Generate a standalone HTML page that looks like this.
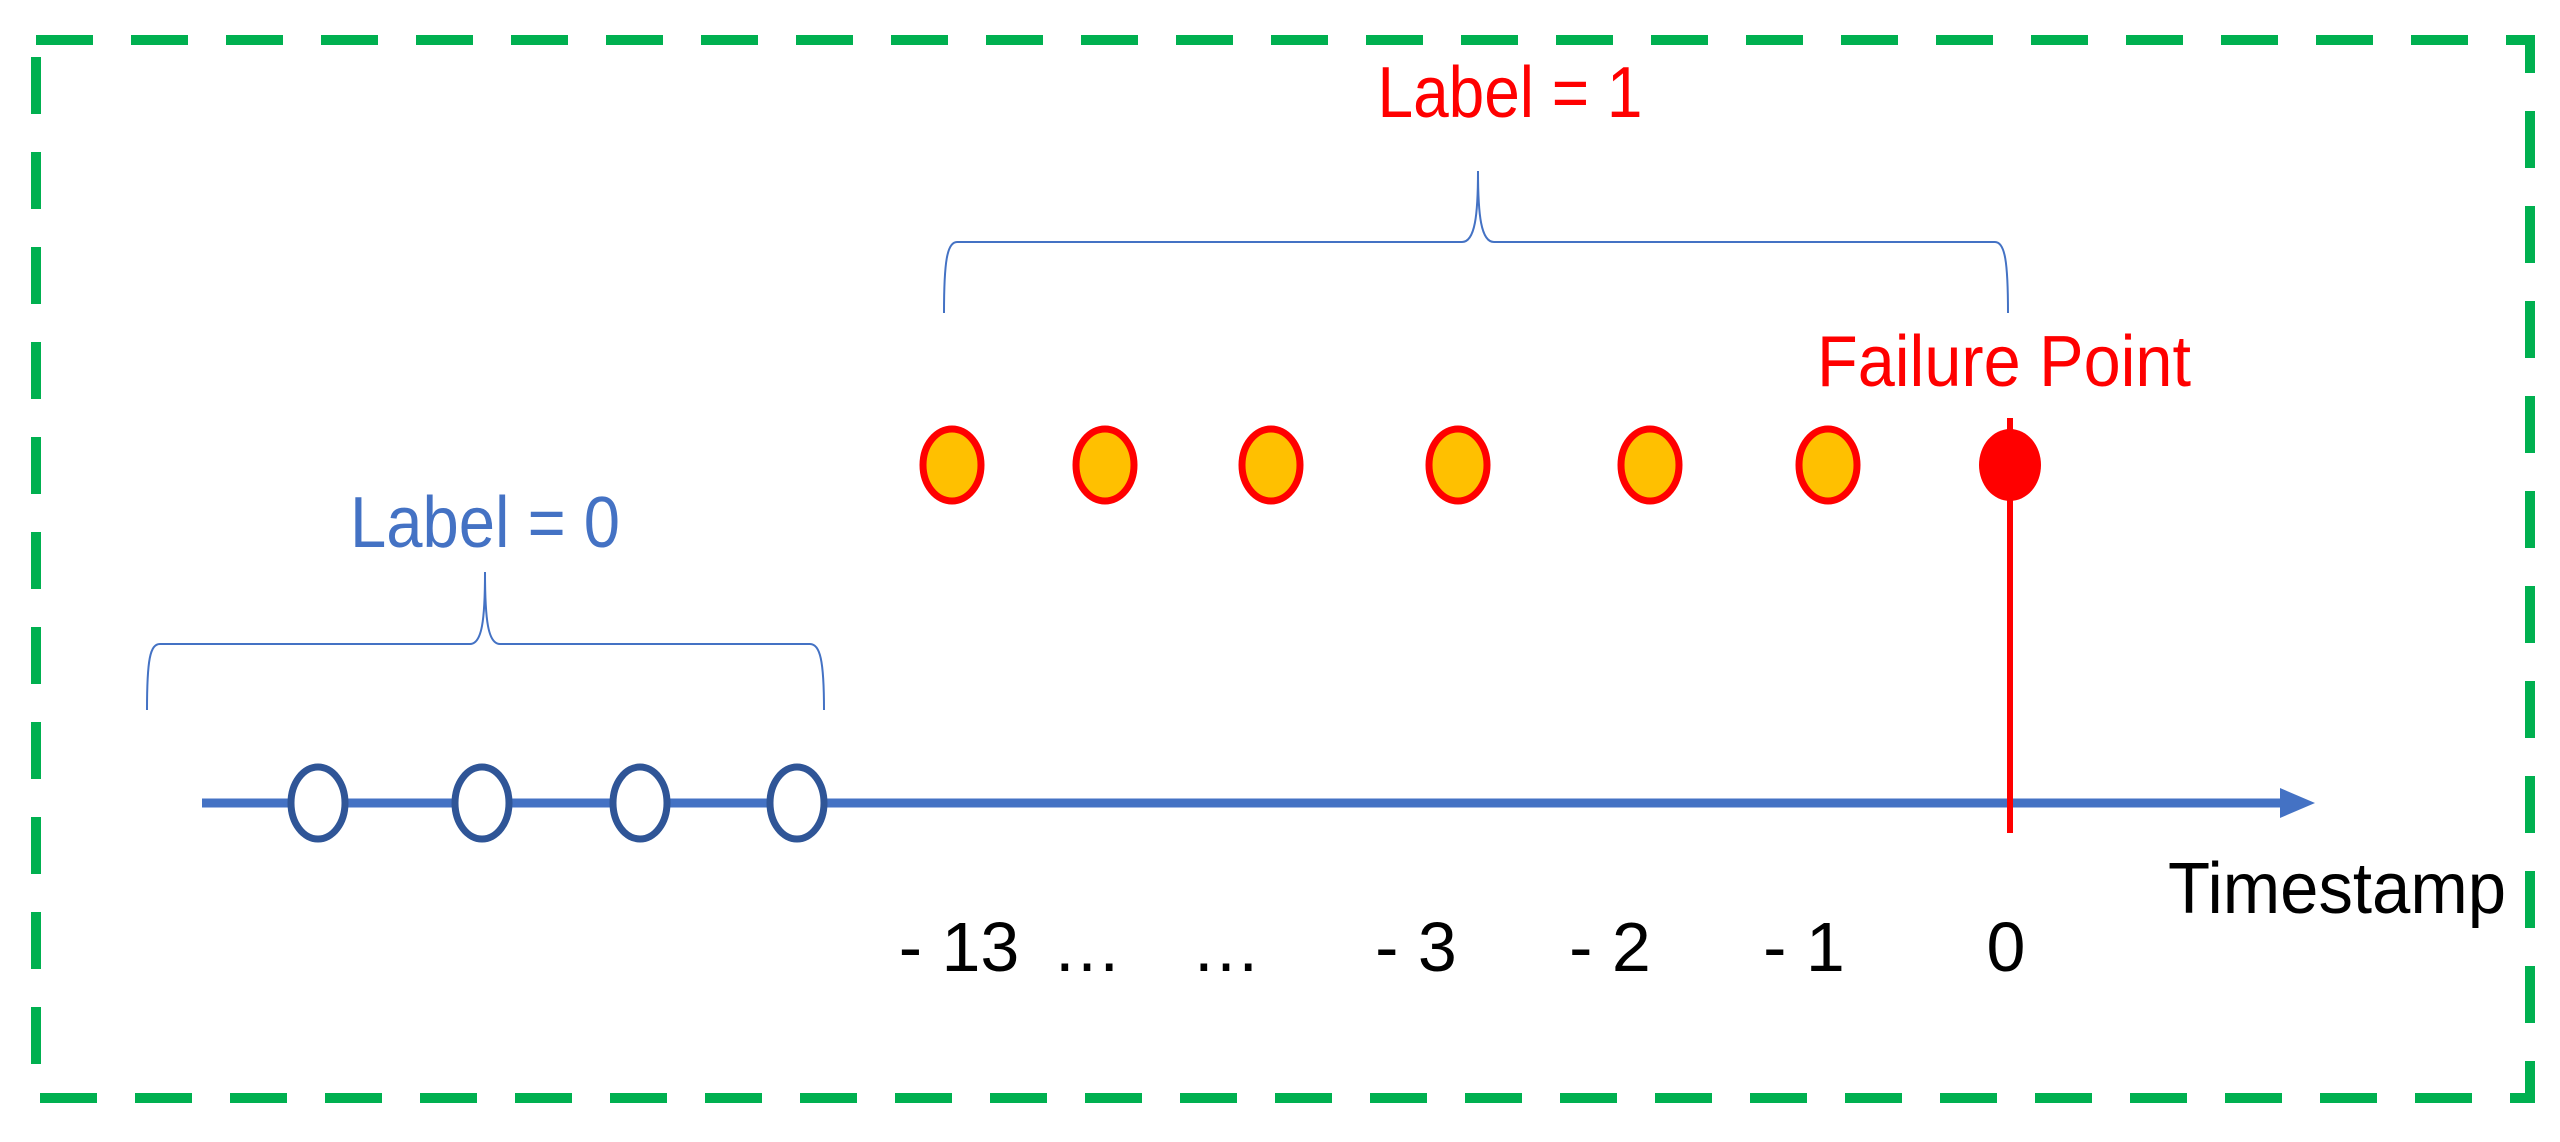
<!DOCTYPE html>
<html><head><meta charset="utf-8"><style>
html,body{margin:0;padding:0;background:#fff;}
svg{display:block;}
text{font-family:"Liberation Sans",sans-serif;}
</style></head><body>
<svg id="chart" width="2560" height="1142" viewBox="0 0 2560 1142">
<rect x="36" y="40" width="2494" height="1058" fill="none" stroke="#00B050" stroke-width="10" stroke-dasharray="57 38"/>
<path d="M147 710 C147 660 150 644 160 644 L470 644 C482 644 485 620 485 572 C485 620 488 644 500 644 L810 644 C820 644 824 660 824 710" fill="none" stroke="#4472C4" stroke-width="2"/>
<path d="M944 313 C944 262 947 242 957 242 L1462 242 C1475 242 1478 215 1478 171 C1478 215 1481 242 1494 242 L1995 242 C2005 242 2008 262 2008 313" fill="none" stroke="#4472C4" stroke-width="2"/>
<text x="1510" y="117" font-size="72" fill="#FF0000" text-anchor="middle" textLength="265" lengthAdjust="spacingAndGlyphs">Label = 1</text>
<text x="485" y="547" font-size="72" fill="#4472C4" text-anchor="middle" textLength="270" lengthAdjust="spacingAndGlyphs">Label = 0</text>
<text x="2004" y="386" font-size="72" fill="#FF0000" text-anchor="middle" textLength="374" lengthAdjust="spacingAndGlyphs">Failure Point</text>
<text x="2337" y="913" font-size="72" fill="#000" text-anchor="middle" textLength="338" lengthAdjust="spacingAndGlyphs">Timestamp</text>
<line x1="202" y1="803" x2="2285" y2="803" stroke="#4472C4" stroke-width="9"/>
<polygon points="2280,788 2315,803 2280,818" fill="#4472C4"/>
<g id="marks"></g>
</svg>
<script>
const normalPos = [318, 482, 640, 797];
const failurePos = [952, 1105, 1271, 1458, 1650, 1828];
const failureAt = [2010];
const tickLabels = ["- 13", "…", "…", "- 3", "- 2", "- 1", "0"];
const tickPos = [959, 1087, 1226, 1416, 1610, 1804, 2006];
const NS = "http://www.w3.org/2000/svg";
const g = document.getElementById("marks");
function mk(tag, attrs){const e=document.createElementNS(NS,tag);for(const k in attrs)e.setAttribute(k,attrs[k]);g.appendChild(e);return e;}
const axisY = 803, dotY = 465;
failureAt.forEach(x=>{
  const l = mk("line",{x1:x,y1:418,x2:x,y2:833,stroke:"#FF0000","stroke-width":6});
  
  
  const c = mk("ellipse",{cx:x,cy:dotY,rx:31,ry:36,fill:"#FF0000"});
  
  
});
normalPos.forEach(x=>{
  const c = mk("ellipse",{cx:x,cy:axisY,rx:27,ry:36,fill:"#fff",stroke:"#2F5597","stroke-width":7});
  
  
});
failurePos.forEach(x=>{
  const c = mk("ellipse",{cx:x,cy:dotY,rx:29,ry:36,fill:"#FFC000",stroke:"#FF0000","stroke-width":7});
  
  
});
tickLabels.forEach((t,i)=>{
  const e = mk("text",{x:tickPos[i],y:971,"font-size":70,fill:"#000","text-anchor":"middle"});
  e.textContent = t;
  
  
});
</script>
</body></html>
